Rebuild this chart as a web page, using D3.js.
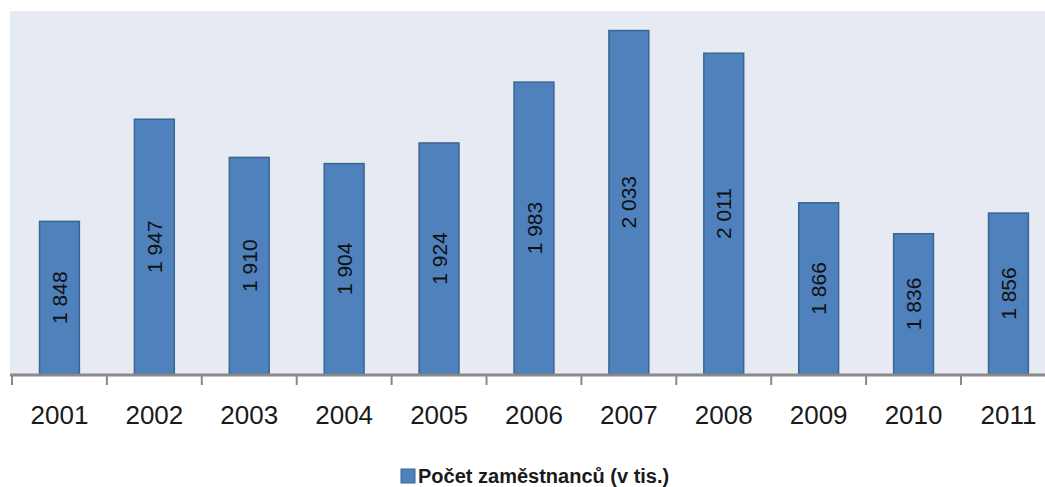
<!DOCTYPE html>
<html>
<head>
<meta charset="utf-8">
<script src="https://cdn.jsdelivr.net/npm/d3@7"></script>
<style>
  html, body { margin: 0; padding: 0; background: #ffffff; }
  svg { display: block; }
</style>
</head>
<body>
<svg id="chart" width="1045" height="487"></svg>
<script>
const years = ["2001","2002","2003","2004","2005","2006","2007","2008","2009","2010","2011"];
const employees = [1848, 1947, 1910, 1904, 1924, 1983, 2033, 2011, 1866, 1836, 1856];
const seriesName = "Počet zaměstnanců (v tis.)";
const yDomain = [1700, 2050];

const svg = d3.select("#chart");
const W = 1045, H = 487;
const plot = { left: 10, top: 11, right: 1056, bottom: 374 };

const x = d3.scaleBand().domain(years).range([12, 12 + 11 * 94.9]).paddingInner(0.58).paddingOuter(0.29);
const y = d3.scaleLinear().domain(yDomain).range([plot.bottom, 13]);

// plot background
svg.append("rect")
  .attr("x", plot.left).attr("y", plot.top)
  .attr("width", W - plot.left).attr("height", plot.bottom - plot.top)
  .attr("fill", "#e6eaf3");

// bars
const fmt = v => d3.format(",")(v).replace(/,/g, " ");
const g = svg.append("g");
g.selectAll("rect.bar").data(years).join("rect")
  .attr("class", "bar")
  .attr("x", d => x(d))
  .attr("y", (d, i) => y(employees[i]))
  .attr("width", x.bandwidth())
  .attr("height", (d, i) => plot.bottom - y(employees[i]))
  .attr("fill", "#4f81bd")
  .attr("stroke", "#3b6592")
  .attr("stroke-width", 1.5);

// bar labels
g.selectAll("text.lbl").data(years).join("text")
  .attr("class", "lbl")
  .attr("transform", (d, i) => {
    const cx = x(d) + x.bandwidth() / 2;
    const cy = (y(employees[i]) + plot.bottom) / 2;
    return `translate(${cx},${cy}) rotate(-90)`;
  })
  .attr("text-anchor", "middle")
  .attr("dy", "0.36em")
  .attr("font-family", "Liberation Sans, Arial, sans-serif")
  .attr("font-size", 21)
  .attr("fill", "#111111")
  .text((d, i) => fmt(employees[i]));

// x axis
const axis = d3.axisBottom(x).tickSize(0).tickFormat(d => d);
const ax = svg.append("g").attr("transform", `translate(0,${plot.bottom + 1})`).call(axis);
ax.select(".domain").remove();
ax.selectAll(".tick text")
  .attr("y", 0).attr("dy", 0)
  .attr("transform", "translate(0,49)")
  .attr("font-family", "Liberation Sans, Arial, sans-serif")
  .attr("font-size", 26)
  .attr("fill", "#1a1a1a");

svg.append("line")
  .attr("x1", plot.left).attr("x2", W)
  .attr("y1", plot.bottom + 1).attr("y2", plot.bottom + 1)
  .attr("stroke", "#8a8a8a").attr("stroke-width", 3);

// category boundary ticks
const bounds = d3.range(years.length + 1).map(i => 12 + i * x.step());
svg.selectAll("line.tk").data(bounds).join("line")
  .attr("class", "tk")
  .attr("x1", d => d).attr("x2", d => d)
  .attr("y1", plot.bottom + 1).attr("y2", plot.bottom + 11)
  .attr("stroke", "#8a8a8a").attr("stroke-width", 2);

// legend
const lg = svg.append("g");
lg.append("rect")
  .attr("x", 401).attr("y", 469).attr("width", 14).attr("height", 14)
  .attr("fill", "#4f81bd").attr("stroke", "#3b6592").attr("stroke-width", 1);
lg.append("text")
  .attr("x", 418).attr("y", 483)
  .attr("font-family", "Liberation Sans, Arial, sans-serif")
  .attr("font-size", 20).attr("font-weight", "bold")
  .attr("fill", "#1a1a1a")
  .text(seriesName);
</script>
</body>
</html>
